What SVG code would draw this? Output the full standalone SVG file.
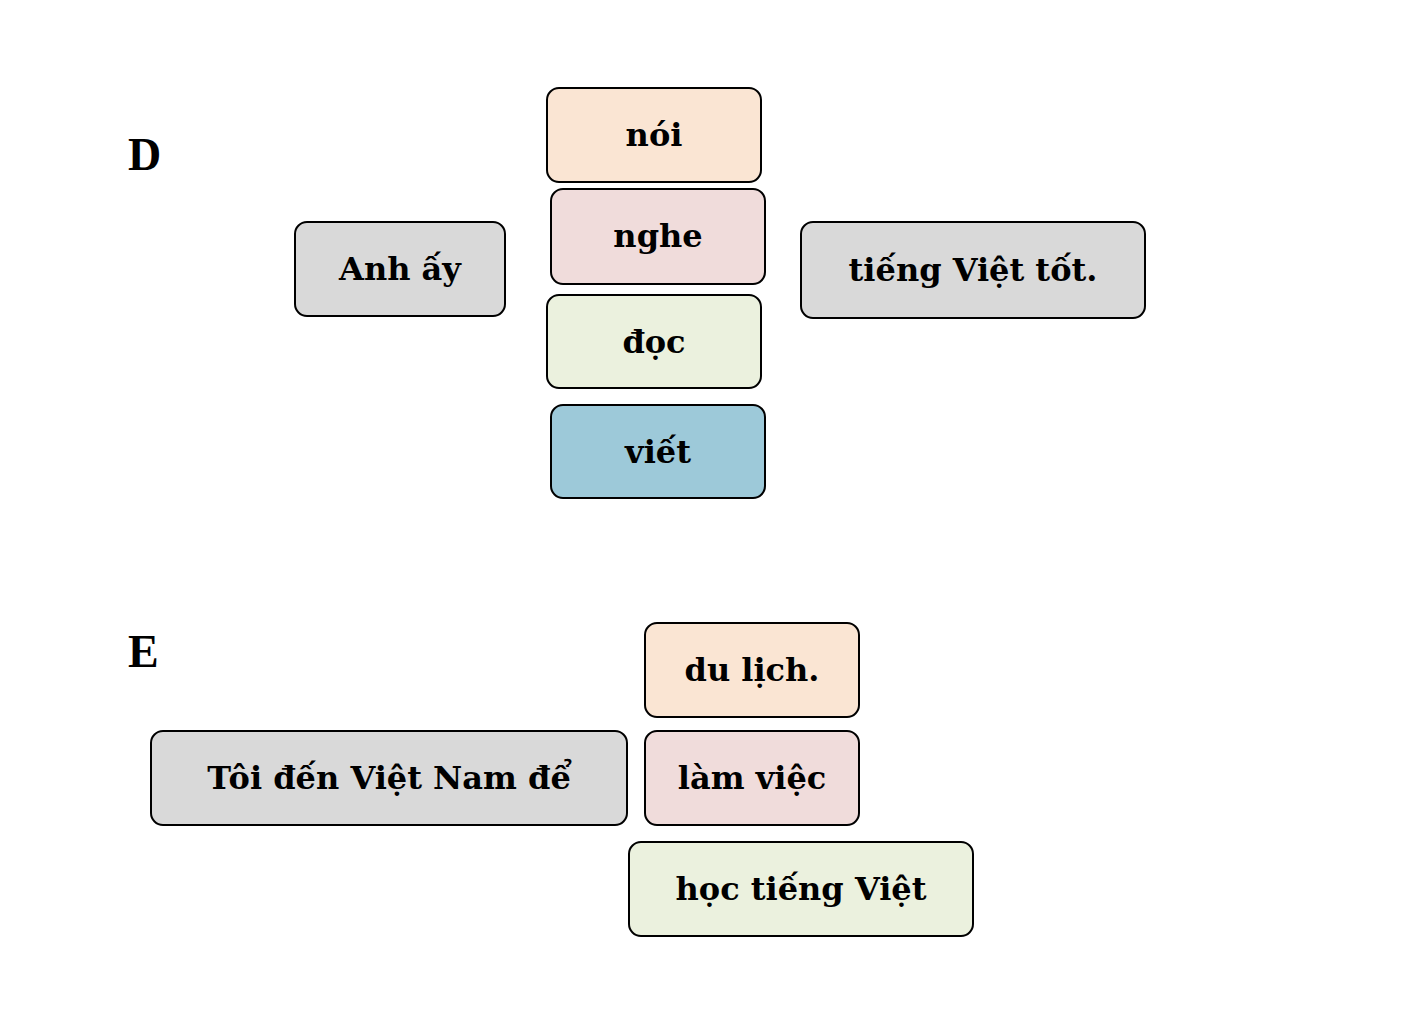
<svg xmlns="http://www.w3.org/2000/svg" width="1424" height="1010" viewBox="0 0 1424 1010">
<style>
rect{stroke:#000;stroke-width:2}
text{font-family:"DejaVu Serif","Liberation Serif",serif;font-weight:bold;font-size:32px;text-anchor:middle;dominant-baseline:central}
.lbl{font-family:"Liberation Serif",serif;font-size:46px;text-anchor:start}
.o{fill:#FAE5D3}.p{fill:#F0DCDB}.g{fill:#EBF1DE}.b{fill:#9DC9D9}.s{fill:#D9D9D9}
</style>
<rect width="1424" height="1010" fill="#fff" style="stroke:none"/>
<text class="lbl" x="128" y="154">D</text>
<text class="lbl" x="128" y="651">E</text>
<g id="noi"><rect class="o" x="547" y="88" width="214" height="94" rx="12"/><text x="654" y="135">nói</text></g>
<g id="nghe"><rect class="p" x="551" y="189" width="214" height="95" rx="12"/><text x="658" y="236">nghe</text></g>
<g id="doc"><rect class="g" x="547" y="295" width="214" height="93" rx="12"/><text x="654" y="342">đọc</text></g>
<g id="viet"><rect class="b" x="551" y="405" width="214" height="93" rx="12"/><text x="658" y="452">viết</text></g>
<g id="anhay"><rect class="s" x="295" y="222" width="210" height="94" rx="12"/><text x="400" y="269">Anh ấy</text></g>
<g id="tiengviettot"><rect class="s" x="801" y="222" width="344" height="96" rx="12"/><text x="973" y="270">tiếng Việt tốt.</text></g>
<g id="dulich"><rect class="o" x="645" y="623" width="214" height="94" rx="12"/><text x="752" y="670">du lịch.</text></g>
<g id="lamviec"><rect class="p" x="645" y="731" width="214" height="94" rx="12"/><text x="752" y="778">làm việc</text></g>
<g id="toiden"><rect class="s" x="151" y="731" width="476" height="94" rx="12"/><text x="389" y="778">Tôi đến Việt Nam để</text></g>
<g id="hoctiengviet"><rect class="g" x="629" y="842" width="344" height="94" rx="12"/><text x="801" y="889">học tiếng Việt</text></g>
<g id="connectors"/>
</svg>
